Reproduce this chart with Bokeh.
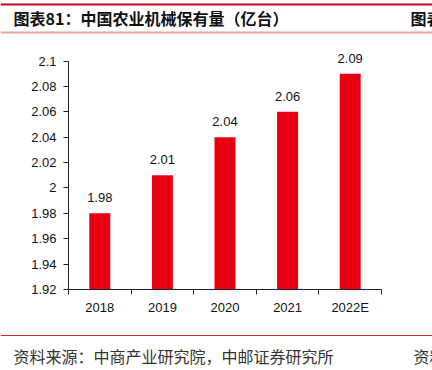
from bokeh.plotting import figure
from bokeh.models import (Range1d, FixedTicker, NumeralTickFormatter, ColumnDataSource,
                          LabelSet, Label, Span)
from bokeh.core.properties import value
from bokeh.embed import file_html
from bokeh.resources import INLINE

# ---- data ----
years = ["2018", "2019", "2020", "2021", "2022E"]
holdings = [1.98, 2.01, 2.04, 2.06, 2.09]
y_ticks = [1.92, 1.94, 1.96, 1.98, 2.00, 2.02, 2.04, 2.06, 2.08, 2.10]
title_text = "图表81：中国农业机械保有量（亿台）"
source_text = "资料来源：中商产业研究院，中邮证券研究所"
next_title = "图表82"
next_source = "资料来源"

BAR_RED = "#E60012"
NUM_FONT = "Liberation Sans"
CJK_FONT = "Noto Sans CJK SC"

# ---- layout in picture pixels (figure origin = picture origin) ----
W, H = 432, 370
AX_LEFT, AX_RIGHT = 68, 381        # x axis extent
AX_TOP, AX_BOTTOM = 60.5, 289      # y of top / bottom y tick

n = len(years)
pxx = (AX_RIGHT - AX_LEFT) / n
pxy = (AX_BOTTOM - AX_TOP) / (y_ticks[-1] - y_ticks[0])
x_start = -AX_LEFT / pxx
x_end = n + (W - AX_RIGHT) / pxx
y_end = y_ticks[-1] + AX_TOP / pxy
y_start = y_ticks[0] - (H - AX_BOTTOM) / pxy


def X(px):
    return x_start + px / pxx


def Y(py):
    return y_end - py / pxy


p = figure(width=W, height=H, output_backend="svg", toolbar_location=None,
           x_range=Range1d(x_start, x_end), y_range=Range1d(y_start, y_end),
           min_border=0, min_border_left=0, min_border_right=0,
           min_border_top=0, min_border_bottom=0)
p.outline_line_color = None
p.xgrid.visible = False
p.ygrid.visible = False
p.background_fill_color = "white"
p.border_fill_color = "white"

xs = [i + 0.5 for i in range(n)]
src = ColumnDataSource(dict(x=xs, top=holdings, year=years,
                            lab=[f"{v:.2f}" for v in holdings]))
p.vbar(x="x", top="top", bottom=y_ticks[0], width=0.335, source=src,
       fill_color=BAR_RED, line_color=None)

p.add_layout(LabelSet(x="x", y="top", text="lab", source=src, text_align="center",
                      text_baseline="alphabetic", y_offset=11,
                      text_font=value(NUM_FONT), text_font_size=value("13px"),
                      text_color="#111111"))

# x axis: labels at category centres, tick marks at category boundaries
xa = p.xaxis[0]
xa.fixed_location = y_ticks[0]
xa.bounds = (0, n)
xa.ticker = FixedTicker(ticks=xs, minor_ticks=list(range(n + 1)))
xa.major_label_overrides = {x: y for x, y in zip(xs, years)}
xa.major_tick_out = 0
xa.major_tick_in = 0
xa.minor_tick_out = 5
xa.minor_tick_in = 0
xa.minor_tick_line_color = "#222222"
xa.axis_line_color = "#222222"
xa.major_label_standoff = 5
xa.major_label_text_font = NUM_FONT
xa.major_label_text_font_size = "13px"
xa.major_label_text_color = "#111111"

ya = p.yaxis[0]
ya.fixed_location = 0
ya.bounds = (y_ticks[0], y_ticks[-1])
ya.ticker = FixedTicker(ticks=y_ticks)
ya.formatter = NumeralTickFormatter(format="0.[00]")
ya.major_tick_out = 5
ya.major_tick_in = 0
ya.minor_tick_line_color = None
ya.axis_line_color = "#222222"
ya.major_tick_line_color = "#222222"
ya.major_label_standoff = 7
ya.major_label_text_font = NUM_FONT
ya.major_label_text_font_size = "13px"
ya.major_label_text_color = "#111111"

# ---- header / footer rules ----
p.add_layout(Span(location=Y(4), dimension="width", line_color="#BE0A1E",
                  line_width=2))
p.add_layout(Span(location=Y(32), dimension="width", line_color="#E9A3A3",
                  line_width=2))
p.add_layout(Span(location=Y(335), dimension="width", line_color="#C8302E",
                  line_width=1))

p.add_layout(Label(x=X(13), y=Y(17.5), text=title_text, text_font=CJK_FONT,
                   text_font_size="16px", text_font_style="bold",
                   text_baseline="middle", text_color="#111111"))
p.add_layout(Label(x=X(410), y=Y(17.5), text=next_title, text_font=CJK_FONT,
                   text_font_size="16px", text_font_style="bold",
                   text_baseline="middle", text_color="#111111"))
p.add_layout(Label(x=X(13), y=Y(355), text=source_text, text_font=CJK_FONT,
                   text_font_size="16px", text_baseline="middle",
                   text_color="#333333"))
p.add_layout(Label(x=X(413), y=Y(355), text=next_source, text_font=CJK_FONT,
                   text_font_size="16px", text_baseline="middle",
                   text_color="#333333"))

open("out.html", "w").write(file_html(p, INLINE))
